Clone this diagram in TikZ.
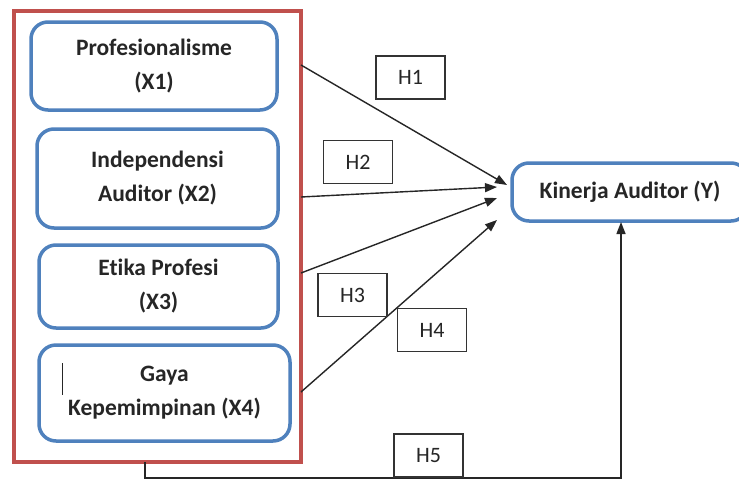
\documentclass[tikz,border=0pt]{standalone}
\usepackage{fontspec}
\setmainfont[Ligatures=NoCommon]{Carlito}
\usetikzlibrary{arrows.meta}
\definecolor{boxblue}{HTML}{4F81BD}
\definecolor{boxred}{HTML}{C0504D}
\begin{document}
\begin{tikzpicture}[x=1pt,y=-1pt,
  var/.style={draw=boxblue, line width=3.5pt, rounded corners=17pt, font=\bfseries\fontsize{23.5}{34}\selectfont, align=center, inner sep=0pt, text=black!85},
  hyp/.style={draw=black!80, line width=1.2pt, font=\fontsize{22}{24}\selectfont, minimum width=69pt, minimum height=43pt, inner sep=0pt, text=black!85},
  arr/.style={black!85, line width=1.4pt, -{Triangle[length=12pt,width=9pt]}}]
\useasboundingbox (0,0) rectangle (739,480);
\clip (0,0) rectangle (739,480);
\fill[white] (0,0) rectangle (739,480);
% red frame
\node[draw=boxred, line width=4pt, minimum width=287pt, minimum height=451pt, inner sep=0pt] (frame) at (157.5,236.5) {};
% variable boxes
\node[var, minimum width=246pt, minimum height=88pt] (x1) at (154,66) {\raisebox{-4pt}{Profesionalisme}\\\raisebox{-4pt}{(X1)}};
\node[var, minimum width=241pt, minimum height=99pt] (x2) at (157.5,178.5) {Independensi\\Auditor (X2)};
\node[var, minimum width=239pt, minimum height=83pt] (x3) at (158.5,286.5) {\raisebox{-3pt}{Etika Profesi}\\\raisebox{-3pt}{(X3)}};
\node[var, minimum width=251pt, minimum height=96pt] (x4) at (164.5,393) {Gaya\\Kepemimpinan (X4)};
\node[var, minimum width=236pt, minimum height=58pt] (y) at (630,192) {Kinerja Auditor (Y)};
% stray bar in X4
\coordinate (bt) at (62,363);
\coordinate (bb) at (62,395);
\draw[line width=1pt, black!85] (bt) -- (bb);
% arrow end points
\coordinate (s1) at (301,65);
\coordinate (t1) at (507,185);
\coordinate (s2) at (301,197);
\coordinate (t2) at (497,187);
\coordinate (s3) at (301,273);
\coordinate (t3) at (497,198);
\coordinate (s4) at (301,392);
\coordinate (t4) at (497,220);
\coordinate (s5) at (145,462);
\coordinate (c5a) at (145,478);
\coordinate (c5b) at (621,478);
\coordinate (t5) at (621,222);
\draw[arr] (s1) -- (t1);
\draw[arr] (s2) -- (t2);
\draw[arr] (s3) -- (t3);
\draw[arr] (s4) -- (t4);
\draw[arr] (s5) -- (c5a) -- (c5b) -- (t5);
% hypothesis labels
\node[hyp] (h1) at (410.5,77.5) {H1\hspace{8pt}};
\node[hyp] (h2) at (358,162) {H2\hspace{8pt}};
\node[hyp] (h3) at (352.5,295) {H3\hspace{8pt}};
\node[hyp] (h4) at (432,330) {H4\hspace{8pt}};
\node[hyp] (h5) at (428.5,455.5) {H5\hspace{8pt}};
\end{tikzpicture}
\end{document}
